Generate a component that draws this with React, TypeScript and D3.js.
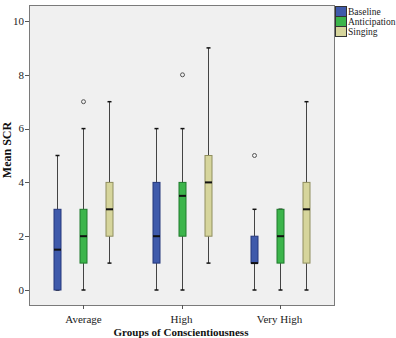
import React from 'react';
import * as d3 from 'd3';

const groups = ['Average', 'High', 'Very High'];
const series = ['Baseline', 'Anticipation', 'Singing'];
const seriesColors = ['#3f5aab', '#3cb54b', '#d6d59c'];
const seriesStroke = ['#24367a', '#1f7a2c', '#8f8e5e'];
const yTicks = [0, 2, 4, 6, 8, 10];

// [min, q1, median, q3, max] per group, per series
const baselineStats = [
    [0, 0, 1.5, 3, 5],
    [0, 1, 2, 4, 6],
    [0, 1, 1, 2, 3],
];
const anticipationStats = [
    [0, 1, 2, 3, 6],
    [0, 2, 3.5, 4, 6],
    [0, 1, 2, 3, 3],
];
const singingStats = [
    [1, 2, 3, 4, 7],
    [1, 2, 4, 5, 9],
    [0, 1, 3, 4, 7],
];
const baselineOutliers = [[], [], [5]];
const anticipationOutliers = [[7], [8], []];
const singingOutliers = [[], [], []];

const allStats = [baselineStats, anticipationStats, singingStats];
const allOutliers = [baselineOutliers, anticipationOutliers, singingOutliers];

const W = 396;
const H = 338;
const margin = { top: 5, right: 62, bottom: 33, left: 29 };
const font = '"Liberation Serif", "Times New Roman", serif';

const App: React.FC = () => {
    const plotW = W - margin.left - margin.right;
    const plotH = H - margin.top - margin.bottom;

    const x = d3.scalePoint<string>()
        .domain(groups)
        .range([margin.left, margin.left + plotW])
        .padding(0.556);

    const y = d3.scaleLinear()
        .domain([0, 10])
        .range([290, 21]);

    const inner = d3.scaleBand<string>()
        .domain(series)
        .range([-39, 39]);

    const boxW = 7;
    const capW = 4;

    const boxes: React.ReactNode[] = [];
    series.forEach((s, si) => {
        groups.forEach((g, gi) => {
            const [mn, q1, med, q3, mx] = allStats[si][gi];
            const cx = Math.round((x(g) || 0) + (inner(s) || 0) + inner.bandwidth() / 2) + 0.5;
            const key = `${s}-${g}`;
            boxes.push(
                <g key={key}>
                    <line x1={cx} x2={cx} y1={y(mx)} y2={y(q3)} stroke="#444" strokeWidth={1} />
                    <line x1={cx} x2={cx} y1={y(q1)} y2={y(mn)} stroke="#444" strokeWidth={1} />
                    <line x1={cx - capW / 2} x2={cx + capW / 2} y1={y(mx)} y2={y(mx)} stroke="#111" strokeWidth={1.5} />
                    <line x1={cx - capW / 2} x2={cx + capW / 2} y1={y(mn)} y2={y(mn)} stroke="#111" strokeWidth={1.5} />
                    <rect
                        x={cx - boxW / 2}
                        y={y(q3)}
                        width={boxW}
                        height={y(q1) - y(q3)}
                        fill={seriesColors[si]}
                        stroke={seriesStroke[si]}
                        strokeWidth={1}
                    />
                    <line x1={cx - boxW / 2} x2={cx + boxW / 2} y1={y(med)} y2={y(med)} stroke="#111" strokeWidth={2} />
                    {allOutliers[si][gi].map((o, oi) => (
                        <circle key={oi} cx={cx} cy={y(o)} r={2} fill="none" stroke="#555" strokeWidth={1} />
                    ))}
                </g>
            );
        });
    });

    return (
        <svg width={W} height={H} style={{ position: 'absolute', left: 0, top: 0 }}>
            <rect x={0} y={0} width={W} height={H} fill="#fff" />
            <rect x={margin.left + 0.5} y={margin.top + 0.5} width={plotW} height={plotH} fill="#f0f0f0" stroke="#7a7a7a" strokeWidth={1} />

            {/* Y axis ticks */}
            {yTicks.map(t => (
                <g key={t}>
                    <line x1={margin.left - 4} x2={margin.left} y1={Math.round(y(t)) + 0.5} y2={Math.round(y(t)) + 0.5} stroke="#555" />
                    <text x={margin.left - 5} y={y(t)} dy="0.35em" textAnchor="end" fontFamily={font} fontSize={11} fill="#222">{t}</text>
                </g>
            ))}

            {/* X axis ticks */}
            {groups.map(g => (
                <g key={g}>
                    <line x1={Math.round(x(g) || 0) + 0.5} x2={Math.round(x(g) || 0) + 0.5} y1={margin.top + plotH} y2={margin.top + plotH + 4} stroke="#555" />
                    <text x={x(g)} y={323} textAnchor="middle" fontFamily={font} fontSize={11} fill="#222">{g}</text>
                </g>
            ))}

            {boxes}

            {/* Axis titles */}
            <text x={181} y={336} textAnchor="middle" fontFamily={font} fontSize={11} fontWeight="bold" fill="#111">Groups of Conscientiousness</text>
            <text transform="translate(11,150) rotate(-90)" textAnchor="middle" fontFamily={font} fontSize={12} fontWeight="bold" fill="#111">Mean SCR</text>

            {/* Legend */}
            {series.map((s, si) => (
                <g key={s} transform={`translate(335,${6 + si * 10})`}>
                    <rect x={0.5} y={0.5} width={11} height={10} fill={seriesColors[si]} stroke="#333" strokeWidth={1} />
                    <text x={13} y={8.5} fontFamily={font} fontSize={9.5} fill="#222">{s}</text>
                </g>
            ))}
        </svg>
    );
};

export default App;
